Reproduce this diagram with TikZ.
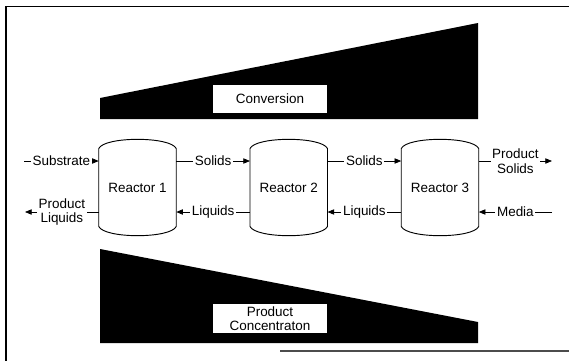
\documentclass[tikz,border=0pt]{standalone}
\usepackage{fontspec}
\setmainfont{Liberation Sans}
\usetikzlibrary{arrows.meta, positioning}

\begin{document}
\begin{tikzpicture}[
        x=0.75pt, y=-0.75pt,
        font=\fontsize{10.1}{10.8}\selectfont,
        reactor/.style={minimum width=57.75pt, minimum height=58pt, inner sep=0pt},
        vessel/.style={line width=0.7pt},
        lbl/.style={fill=white, inner sep=1.2pt, align=center},
        arr/.style={-{Triangle[length=5pt, width=4pt]}, line width=0.6pt},
        band/.style={fill=white, minimum width=85.5pt, minimum height=21.5pt, inner sep=0pt, align=center}
    ]
    \useasboundingbox (0,0) rectangle (569,361);

    % frame
    \draw[line width=0.9pt] (6,361) -- (6,6.5) -- (569,6.5);
    \draw[line width=0.9pt, black!70] (280,351) -- (569,351);

    % wedges
    \fill (100,98) -- (478,23) -- (478,119) -- (100,119) -- cycle;
    \fill (100,249) -- (478,322) -- (478,343) -- (100,343) -- cycle;
    \node[band] (conv) at (270,99) {Conversion};
    \node[band] (conc) at (270,318.5) {Product\\Concentraton};

    % reactors
    \node[reactor] (r1) at (137.5,187.5) {Reactor 1};
    \node[reactor] (r2) at (288.75,187.5) {Reactor 2};
    \node[reactor] (r3) at (440,187.5) {Reactor 3};
    \foreach \r in {r1,r2,r3}
        \draw[vessel] (\r.north west) to[out=65, in=115, looseness=0.45] (\r.north east)
            -- (\r.south east) to[out=-115, in=-65, looseness=0.45] (\r.south west) -- cycle;

    % stream ends
    \coordinate (subIn) at (24,161);
    \coordinate (liqOut) at (25,212);
    \coordinate (solOut) at (552,161);
    \coordinate (medIn) at (552,212);

    \draw[arr] (subIn) -- node[lbl] {Substrate} (subIn -| r1.west);
    \draw[arr] (liqOut -| r1.west) -- node[lbl] {Product\\Liquids} (liqOut);
    \draw[arr] (r1.east |- subIn) -- node[lbl] {Solids} (r2.west |- subIn);
    \draw[arr] (r2.west |- liqOut) -- node[lbl] {Liquids} (r1.east |- liqOut);
    \draw[arr] (r2.east |- subIn) -- node[lbl] {Solids} (r3.west |- subIn);
    \draw[arr] (r3.west |- liqOut) -- node[lbl] {Liquids} (r2.east |- liqOut);
    \draw[arr] (r3.east |- solOut) -- node[lbl] {Product\\Solids} (solOut);
    \draw[arr] (medIn) -- node[lbl] {Media} (medIn -| r3.east);
\end{tikzpicture}
\end{document}
